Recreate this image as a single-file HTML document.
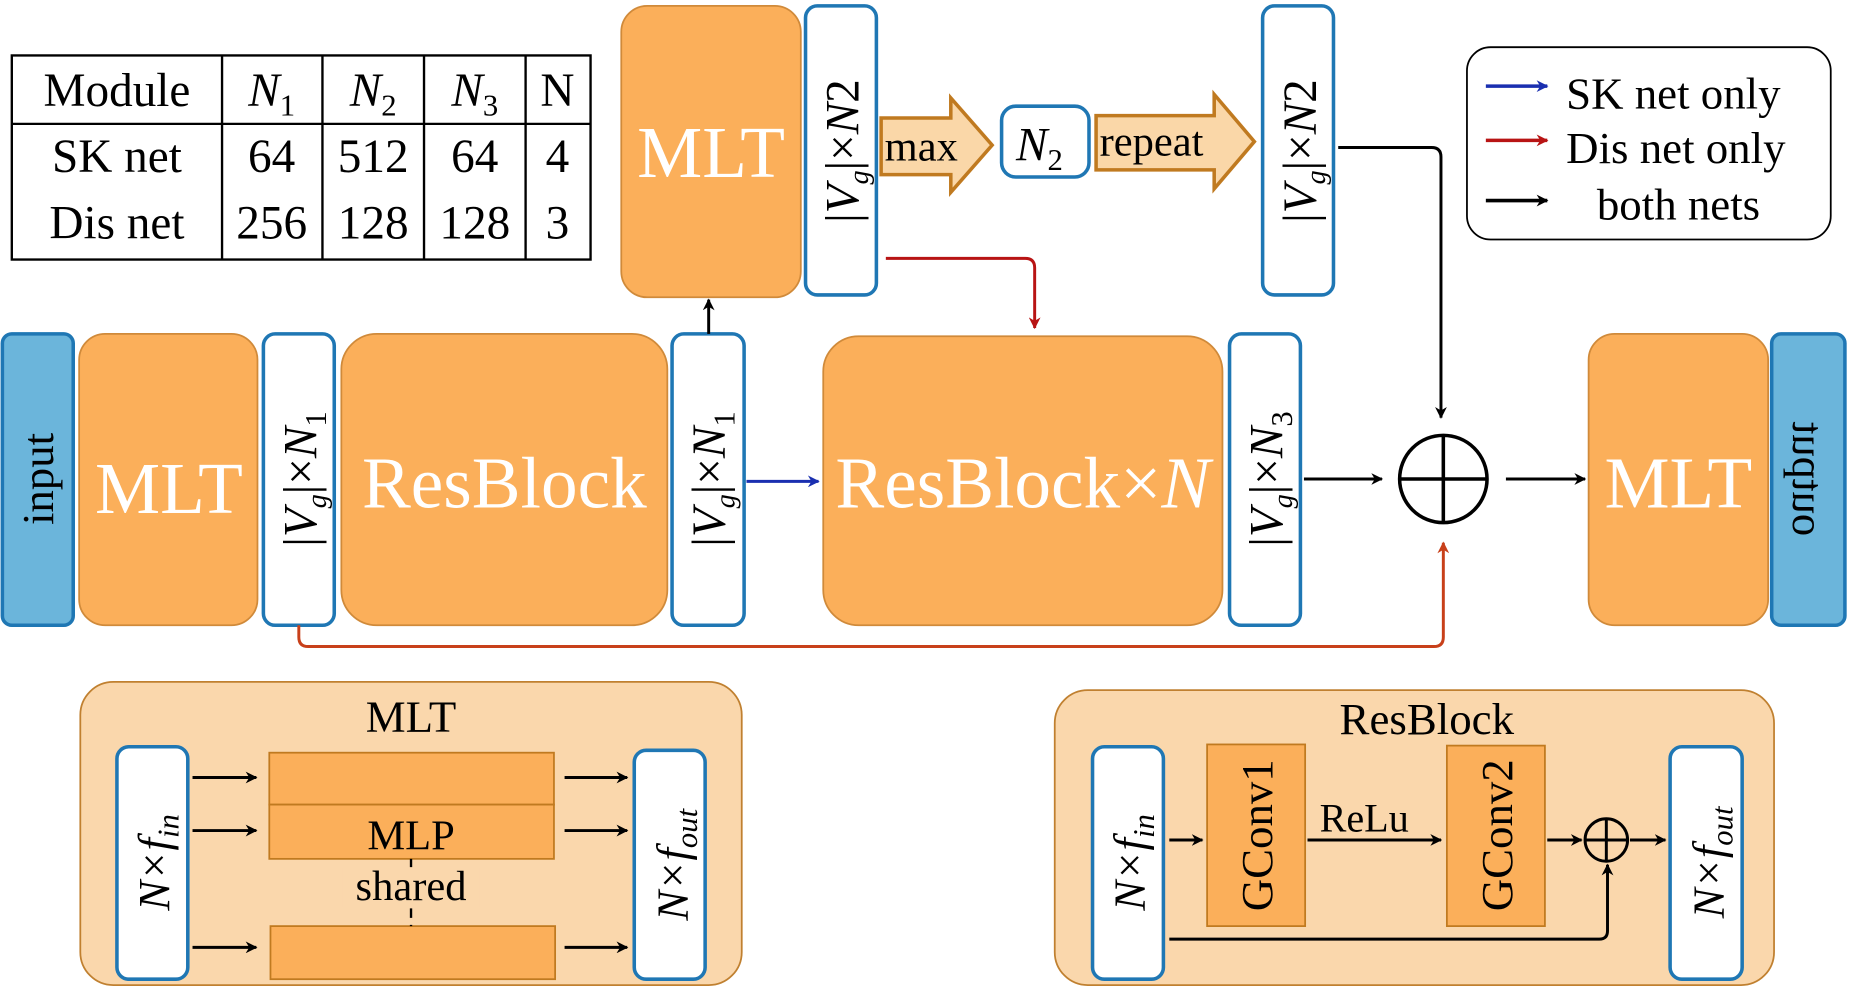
<!DOCTYPE html>
<html><head><meta charset="utf-8"><style>
html,body{margin:0;padding:0;background:#fff;}
svg{display:block;font-family:"Liberation Serif",serif;}
</style></head><body>
<svg width="1852" height="991" viewBox="0 0 1568 840" preserveAspectRatio="none" xmlns="http://www.w3.org/2000/svg">
<defs>
<marker id="ak" markerWidth="10" markerHeight="10" refX="9" refY="5" orient="auto" markerUnits="userSpaceOnUse"><path d="M0,0 L10,5 L0,10 L3,5 z" fill="#000"/></marker>
<marker id="ab" markerWidth="10" markerHeight="10" refX="9" refY="5" orient="auto" markerUnits="userSpaceOnUse"><path d="M0,0 L10,5 L0,10 L3,5 z" fill="#1a2fb0"/></marker>
<marker id="ar" markerWidth="10" markerHeight="10" refX="9" refY="5" orient="auto" markerUnits="userSpaceOnUse"><path d="M0,0 L10,5 L0,10 L3,5 z" fill="#b81414"/></marker>
<marker id="ao" markerWidth="10" markerHeight="10" refX="9" refY="5" orient="auto" markerUnits="userSpaceOnUse"><path d="M0,0 L10,5 L0,10 L3,5 z" fill="#c8401a"/></marker>
</defs>
<!-- table -->
<g stroke="#000" stroke-width="2" fill="none">
<rect x="10" y="47" width="490" height="173"/>
<line x1="10" y1="105" x2="500" y2="105"/>
<line x1="188" y1="47" x2="188" y2="220"/><line x1="273" y1="47" x2="273" y2="220"/>
<line x1="359" y1="47" x2="359" y2="220"/><line x1="445" y1="47" x2="445" y2="220"/>
</g>
<g font-size="40" text-anchor="middle" fill="#000">
<text x="99" y="90">Module</text>
<text x="230" y="90" font-style="italic">N<tspan font-size="26" font-style="normal" dy="8">1</tspan></text>
<text x="316" y="90" font-style="italic">N<tspan font-size="26" font-style="normal" dy="8">2</tspan></text>
<text x="402" y="90" font-style="italic">N<tspan font-size="26" font-style="normal" dy="8">3</tspan></text>
<text x="472" y="90">N</text>
<text x="99" y="146">SK net</text><text x="230" y="146">64</text><text x="316" y="146">512</text><text x="402" y="146">64</text><text x="472" y="146">4</text>
<text x="99" y="202">Dis net</text><text x="230" y="202">256</text><text x="316" y="202">128</text><text x="402" y="202">128</text><text x="472" y="202">3</text>
</g>
<!-- orange boxes -->
<g fill="#FBAF5A" stroke="#d08a3a" stroke-width="1.5">
<rect x="526" y="5" width="152" height="247" rx="22"/>
<rect x="67" y="283" width="151" height="247" rx="22"/>
<rect x="289" y="283" width="276" height="247" rx="30"/>
<rect x="697" y="285" width="338" height="245" rx="30"/>
<rect x="1345" y="283" width="152" height="247" rx="22"/>
</g>
<g fill="#fff" font-size="62" text-anchor="middle">
<text x="602" y="150">MLT</text>
<text x="143" y="435">MLT</text>
<text x="427" y="430">ResBlock</text>
<text x="866" y="430">ResBlock×<tspan font-style="italic">N</tspan></text>
<text x="1421" y="430">MLT</text>
</g>
<!-- blue boxes -->
<g fill="#6BB5DB" stroke="#1f77b4" stroke-width="3">
<rect x="2" y="283" width="60" height="247" rx="8"/>
<rect x="1500" y="283" width="62" height="247" rx="8"/>
</g>
<g font-size="38" fill="#000" text-anchor="middle">
<text transform="translate(45,406) rotate(-90)">input</text>
<text transform="translate(1518,406) scale(1,-1) rotate(90)">output</text>
</g>
<g fill="#fff" stroke="#1f77b4" stroke-width="3">
<rect x="682" y="5" width="60" height="245" rx="10"/>
<rect x="1069" y="5" width="60" height="245" rx="10"/>
<rect x="223" y="283" width="60" height="247" rx="10"/>
<rect x="569" y="283" width="61" height="247" rx="10"/>
<rect x="1041" y="283" width="60" height="247" rx="10"/>
<rect x="848" y="90" width="74" height="60" rx="12"/>
</g>
<g font-size="40" fill="#000" text-anchor="middle">
<text transform="translate(727,128) rotate(-90)">|<tspan font-style="italic">V</tspan><tspan font-size="24" font-style="italic" dy="8">g</tspan><tspan dy="-8">|×</tspan><tspan font-style="italic">N</tspan>2</text>
<text transform="translate(1114,128) rotate(-90)">|<tspan font-style="italic">V</tspan><tspan font-size="24" font-style="italic" dy="8">g</tspan><tspan dy="-8">|×</tspan><tspan font-style="italic">N</tspan>2</text>
<text transform="translate(268,406) rotate(-90)">|<tspan font-style="italic">V</tspan><tspan font-size="24" font-style="italic" dy="8">g</tspan><tspan dy="-8">|×</tspan><tspan font-style="italic">N</tspan><tspan font-size="26" dy="8">1</tspan></text>
<text transform="translate(614,406) rotate(-90)">|<tspan font-style="italic">V</tspan><tspan font-size="24" font-style="italic" dy="8">g</tspan><tspan dy="-8">|×</tspan><tspan font-style="italic">N</tspan><tspan font-size="26" dy="8">1</tspan></text>
<text transform="translate(1086,406) rotate(-90)">|<tspan font-style="italic">V</tspan><tspan font-size="24" font-style="italic" dy="8">g</tspan><tspan dy="-8">|×</tspan><tspan font-style="italic">N</tspan><tspan font-size="26" dy="8">3</tspan></text>
<text x="880" y="136" font-style="italic">N<tspan font-size="26" font-style="normal" dy="8">2</tspan></text>
</g>
<!-- block arrows -->
<g fill="#FAD7A8" stroke="#C07a20" stroke-width="3">
<path d="M746,100 H805 V83 L840,123 L805,163 V148 H746 z"/>
<path d="M928,98 H1028 V80 L1062,120 L1028,160 V144 H928 z"/>
</g>
<g font-size="36" fill="#000">
<text x="749" y="136">max</text>
<text x="931" y="132">repeat</text>
</g>
<!-- legend -->
<rect x="1242" y="40" width="308" height="163" rx="20" fill="#fff" stroke="#000" stroke-width="1.5"/>
<line x1="1258" y1="73" x2="1310" y2="73" stroke="#1a2fb0" stroke-width="3" marker-end="url(#ab)"/>
<line x1="1258" y1="119" x2="1310" y2="119" stroke="#b81414" stroke-width="3" marker-end="url(#ar)"/>
<line x1="1258" y1="170" x2="1310" y2="170" stroke="#000" stroke-width="3" marker-end="url(#ak)"/>
<g font-size="38" fill="#000">
<text x="1326" y="92">SK net only</text>
<text x="1326" y="138">Dis net only</text>
<text x="1352" y="186">both nets</text>
</g>
<!-- connectors -->
<g fill="none" stroke-width="2.5">
<line x1="600" y1="283" x2="600" y2="254" stroke="#000" marker-end="url(#ak)"/>
<line x1="632" y1="408" x2="693" y2="408" stroke="#1a2fb0" marker-end="url(#ab)"/>
<line x1="1104" y1="406" x2="1170" y2="406" stroke="#000" marker-end="url(#ak)"/>
<line x1="1275" y1="406" x2="1342" y2="406" stroke="#000" marker-end="url(#ak)"/>
<path d="M750,219 H868 Q876,219 876,227 V278" stroke="#b81414" marker-end="url(#ar)"/>
<path d="M1133,125 H1212 Q1220,125 1220,133 V354" stroke="#000" marker-end="url(#ak)"/>
<path d="M253,530 V540 Q253,548 261,548 H1214 Q1222,548 1222,540 V460" stroke="#c8401a" marker-end="url(#ao)"/>
</g>
<circle cx="1222" cy="406" r="37" fill="#fff" stroke="#000" stroke-width="3"/>
<line x1="1185" y1="406" x2="1259" y2="406" stroke="#000" stroke-width="3"/>
<line x1="1222" y1="369" x2="1222" y2="443" stroke="#000" stroke-width="3"/>
<!-- panels -->
<rect x="68" y="578" width="560" height="257" rx="28" fill="#FAD7AC" stroke="#C08030" stroke-width="1.5"/>
<rect x="893" y="585" width="609" height="250" rx="28" fill="#FAD7AC" stroke="#C08030" stroke-width="1.5"/>
<text x="348" y="620" font-size="38" text-anchor="middle">MLT</text>
<g fill="#FBAF5A" stroke="#C07a20" stroke-width="1.5">
<rect x="228" y="638" width="241" height="44"/>
<rect x="228" y="682" width="241" height="46"/>
<rect x="229" y="785" width="241" height="45"/>
</g>
<text x="348" y="720" font-size="36" text-anchor="middle">MLP</text>
<line x1="348" y1="728" x2="348" y2="785" stroke="#000" stroke-width="2" stroke-dasharray="8,6"/>
<rect x="290" y="735" width="116" height="34" fill="#FAD7AC"/>
<text x="348" y="763" font-size="36" text-anchor="middle">shared</text>
<g fill="#fff" stroke="#1f77b4" stroke-width="3">
<rect x="99" y="633" width="60" height="197" rx="10"/>
<rect x="537" y="636" width="60" height="194" rx="10"/>
<rect x="925" y="633" width="60" height="197" rx="10"/>
<rect x="1414" y="633" width="61" height="197" rx="10"/>
</g>
<g fill="none" stroke="#000" stroke-width="2.5" marker-end="url(#ak)">
<line x1="163" y1="659" x2="217" y2="659"/><line x1="163" y1="704" x2="217" y2="704"/><line x1="163" y1="803" x2="217" y2="803"/>
<line x1="478" y1="659" x2="531" y2="659"/><line x1="478" y1="704" x2="531" y2="704"/><line x1="478" y1="803" x2="531" y2="803"/>
</g>
<text x="1208" y="622" font-size="38" text-anchor="middle">ResBlock</text>
<g fill="#FBAF5A" stroke="#C07a20" stroke-width="1.5">
<rect x="1022" y="631" width="83" height="154"/>
<rect x="1225" y="632" width="83" height="153"/>
</g>
<g font-size="38" fill="#000" text-anchor="middle">
<text transform="translate(1077,708) rotate(-90)">GConv1</text>
<text transform="translate(1280,708) rotate(-90)">GConv2</text>
<text transform="translate(143,731) rotate(-90)" font-style="italic">N×f<tspan font-size="26" dy="8">in</tspan></text>
<text transform="translate(582,733) rotate(-90)" font-style="italic">N×f<tspan font-size="26" dy="8">out</tspan></text>
<text transform="translate(969,731) rotate(-90)" font-style="italic">N×f<tspan font-size="26" dy="8">in</tspan></text>
<text transform="translate(1459,731) rotate(-90)" font-style="italic">N×f<tspan font-size="26" dy="8">out</tspan></text>
</g>
<text x="1155" y="705" font-size="34" text-anchor="middle">ReLu</text>
<g fill="none" stroke="#000" stroke-width="2.5">
<line x1="990" y1="712" x2="1018" y2="712" marker-end="url(#ak)"/>
<line x1="1107" y1="712" x2="1220" y2="712" marker-end="url(#ak)"/>
<line x1="1310" y1="712" x2="1339" y2="712" marker-end="url(#ak)"/>
<line x1="1380" y1="712" x2="1410" y2="712" marker-end="url(#ak)"/>
<path d="M990,796 H1354 Q1361,796 1361,789 V733" marker-end="url(#ak)"/>
</g>
<circle cx="1360" cy="712" r="18" fill="none" stroke="#000" stroke-width="2.5"/>
<line x1="1342" y1="712" x2="1378" y2="712" stroke="#000" stroke-width="2.5"/>
<line x1="1360" y1="694" x2="1360" y2="730" stroke="#000" stroke-width="2.5"/>
</svg>
</body></html>
